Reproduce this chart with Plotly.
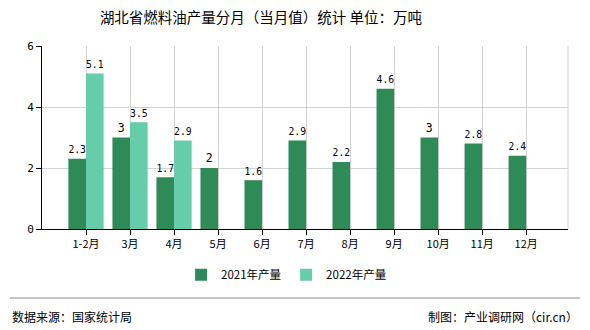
import plotly.graph_objects as go

categories = ["1-2月", "3月", "4月", "5月", "6月", "7月", "8月", "9月", "10月", "11月", "12月"]
values_2021 = [2.3, 3, 1.7, 2, 1.6, 2.9, 2.2, 4.6, 3, 2.8, 2.4]
values_2022 = [5.1, 3.5, 2.9, None, None, None, None, None, None, None, None]
y_ticks = [0, 2, 4, 6]

title = "湖北省燃料油产量分月（当月值）统计 单位：万吨"
source_left = "数据来源：国家统计局"
source_right = "制图：产业调研网（cir.cn）"

label_font = dict(family="DejaVu Sans Mono, monospace", size=11.5, color="#000000")

def labels(vals):
    return [("" if v is None else (str(v))) for v in vals]

fig = go.Figure()
fig.add_trace(go.Bar(
    x=categories, y=values_2021, name="2021年产量",
    marker=dict(color="#2E8B57", line=dict(width=0)),
    text=labels(values_2021), textposition="outside", textfont=label_font,
    cliponaxis=False,
))
fig.add_trace(go.Bar(
    x=categories, y=values_2022, name="2022年产量",
    marker=dict(color="#66CDAA", line=dict(width=0)),
    text=labels(values_2022), textposition="outside", textfont=label_font,
    cliponaxis=False,
))

fig.update_layout(
    width=590, height=330,
    margin=dict(l=42, r=22, t=46, b=101),
    paper_bgcolor="white", plot_bgcolor="white",
    barmode="group", bargap=0.2, bargroupgap=0,
    title=dict(text=title, x=261/590, xanchor="center", y=0.945, yanchor="middle",
               font=dict(family="Noto Sans CJK SC, sans-serif", size=14.5, color="#000000")),
    font=dict(family="Noto Sans CJK SC, sans-serif", size=11, color="#000000"),
    legend=dict(orientation="h", x=0.465, xanchor="center", y=-0.25, yanchor="middle",
                font=dict(size=11.5), itemwidth=30, traceorder="normal"),
    showlegend=True,
)
fig.update_xaxes(
    type="category", range=[-1, 10.95],
    showline=True, linecolor="#000000", linewidth=1,
    ticks="outside", ticklen=5, tickcolor="#000000",
    showgrid=True, gridcolor="#D3D3D3", gridwidth=1,
    tickfont=dict(size=11), fixedrange=True,
)
fig.update_yaxes(
    range=[0, 6], tickvals=y_ticks,
    showline=True, linecolor="#000000", linewidth=1,
    ticks="outside", ticklen=5, tickcolor="#000000",
    showgrid=True, gridcolor="#D3D3D3", gridwidth=1,
    zeroline=False, tickfont=dict(family="DejaVu Sans Mono, monospace", size=11),
)
# right border gridline
fig.add_shape(type="line", xref="paper", yref="paper", x0=1, x1=1, y0=0, y1=1,
              line=dict(color="#D3D3D3", width=1))
# footer separator
fig.add_shape(type="line", xref="paper", yref="paper", x0=-32/526, x1=(580-42)/526,
              y0=-69/183, y1=-69/183, line=dict(color="#888888", width=1))
fig.add_annotation(text=source_left, xref="paper", yref="paper", x=-32/526, y=-87/183,
                   xanchor="left", yanchor="middle", showarrow=False,
                   font=dict(size=12, color="#000000"))
fig.add_annotation(text=source_right, xref="paper", yref="paper", x=(580-42)/526, y=-87/183,
                   xanchor="right", yanchor="middle", showarrow=False,
                   font=dict(size=12, color="#000000"))

fig.write_html("out.html")
